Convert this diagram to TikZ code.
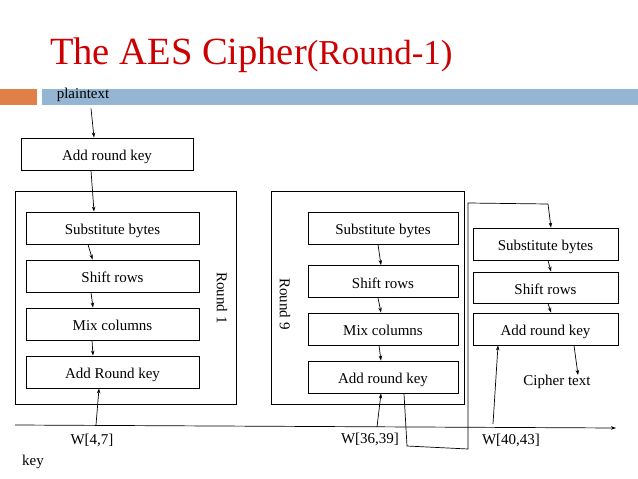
\documentclass[tikz,border=0pt]{standalone}
\usepackage{fontspec}
\setmainfont{Liberation Serif}
\usetikzlibrary{arrows.meta,calc}
\definecolor{titlered}{RGB}{204,0,0}
\definecolor{barorange}{RGB}{224,128,72}
\definecolor{barblue}{RGB}{148,182,210}
\tikzset{
  x=1pt,y=-1pt,
  blk/.style={draw,line width=0.9pt,inner sep=0pt,text height=13pt,text depth=0pt,font=\fontsize{15}{18}\selectfont},
  outerbox/.style={draw,line width=0.9pt,inner sep=0pt},
  lbl/.style={inner sep=0pt,font=\fontsize{15}{18}\selectfont},
  arr/.style={line width=0.7pt,-{Stealth[length=5pt,width=3.5pt]}},
  ln/.style={line width=0.7pt}
}
\begin{document}
\begin{tikzpicture}
\useasboundingbox (0,0) rectangle (638,479);
% header
\node[anchor=base west,inner sep=0pt,text=titlered] (title) at (50,64)
  {{\fontsize{38.5}{40}\selectfont The AES Cipher}{\fontsize{35}{38}\selectfont(Round-1)}};
\fill[barorange] (0,89) rectangle (37,105);
\fill[barblue] (42,89) rectangle (638,105);
\node[lbl,anchor=base] (pt) at (83,98) {plaintext};

% initial round key
\node[blk,minimum width=172pt,minimum height=32pt] (ark0) at (107,154) {Add round key};

% Round 1
\node[outerbox,minimum width=221pt,minimum height=213pt] (r1) at (125.5,297.5) {};
\node[blk,minimum width=173pt,minimum height=32pt] (sb1) at (112.5,228) {Substitute bytes};
\node[blk,minimum width=173pt,minimum height=32pt] (sr1) at (112.5,276) {Shift rows};
\node[blk,minimum width=173pt,minimum height=32pt] (mc1) at (112.5,324) {Mix columns};
\node[blk,minimum width=173pt,minimum height=32pt] (ark1) at (112.5,372) {Add Round key};
\node[lbl,rotate=-90] (r1lbl) at (222,298) {Round 1};

% Round 9
\node[outerbox,minimum width=193pt,minimum height=213pt] (r9) at (367.5,297.5) {};
\node[blk,minimum width=150pt,minimum height=32pt] (sb9) at (383,228) {Substitute bytes};
\node[blk,minimum width=150pt,minimum height=32pt] (sr9) at (383,281.5) {Shift rows};
\node[blk,minimum width=150pt,minimum height=32pt] (mc9) at (383,329) {Mix columns};
\node[blk,minimum width=150pt,minimum height=32pt] (ark9) at (383,377) {Add round key};
\node[lbl,rotate=-90] (r9lbl) at (285,304) {Round 9};

% Final round
\node[blk,minimum width=145pt,minimum height=32pt] (sbf) at (545.5,244) {Substitute bytes};
\node[blk,minimum width=145pt,minimum height=31pt] (srf) at (545.5,287.5) {Shift rows};
\node[blk,minimum width=145pt,minimum height=32pt] (arkf) at (545.5,329) {Add round key};
\node[lbl] (ct) at (557,382) {Cipher text};

% key line and labels
\coordinate (keyL) at (15,425);
\coordinate (keyR) at (616,428);
\draw[arr] (keyL) -- (keyR);
\node[lbl] (w1) at (92,440) {W[4,7]};
\node[lbl] (w9) at (370,439) {W[36,39]};
\node[lbl] (wf) at (511,440) {W[40,43]};
\node[lbl] (key) at (33,462) {key};
\coordinate (k1) at (96,425);
\coordinate (k9) at (377,427);
\coordinate (kf) at (493,424);

% connectors round 1
\draw[arr] ([xshift=8pt,yshift=-7pt]pt.south) -- ([xshift=-13pt]ark0.north);
\draw[arr] ([xshift=-16pt]ark0.south) -- ([xshift=-18.5pt]sb1.north);
\draw[arr] ([xshift=-24.5pt]sb1.south) -- ([xshift=-20pt]sr1.north);
\draw[arr] ([xshift=-21.5pt]sr1.south) -- ([xshift=-19.5pt]mc1.north);
\draw[arr] ([xshift=-20.5pt]mc1.south) -- ([xshift=-19.5pt]ark1.north);
\draw[arr] (k1) -- ([xshift=-13.5pt]ark1.south);

% connectors round 9
\draw[arr] ([xshift=-5pt]sb9.south) -- ([xshift=-2pt]sr9.north);
\draw[arr] ([xshift=-5pt]sr9.south) -- ([xshift=-2pt]mc9.north);
\draw[arr] ([xshift=-4pt]mc9.south) -- ([xshift=-2pt]ark9.north);
\draw[arr] (k9) -- ([xshift=-2pt]ark9.south);

% link from round 9 to final round
\coordinate (c1) at (407,446);
\coordinate (c2) at (468,449);
\coordinate (c3) at (468,203);
\coordinate (c4) at (548,204);
\draw[ln] ([xshift=21pt]ark9.south) -- (c1) -- (c2) -- (c3) -- (c4);
\draw[arr] (c4) -- ([xshift=5.5pt]sbf.north);

% connectors final round
\draw[arr] ([xshift=2.5pt]sbf.south) -- ([xshift=5.5pt]srf.north);
\draw[arr] ([xshift=2.5pt]srf.south) -- ([xshift=5.5pt]arkf.north);
\draw[arr] ([xshift=28.5pt]arkf.south) -- ([xshift=21pt]ct.north);
\draw[arr] (kf) -- ([xshift=-47.5pt]arkf.south);
\end{tikzpicture}
\end{document}
